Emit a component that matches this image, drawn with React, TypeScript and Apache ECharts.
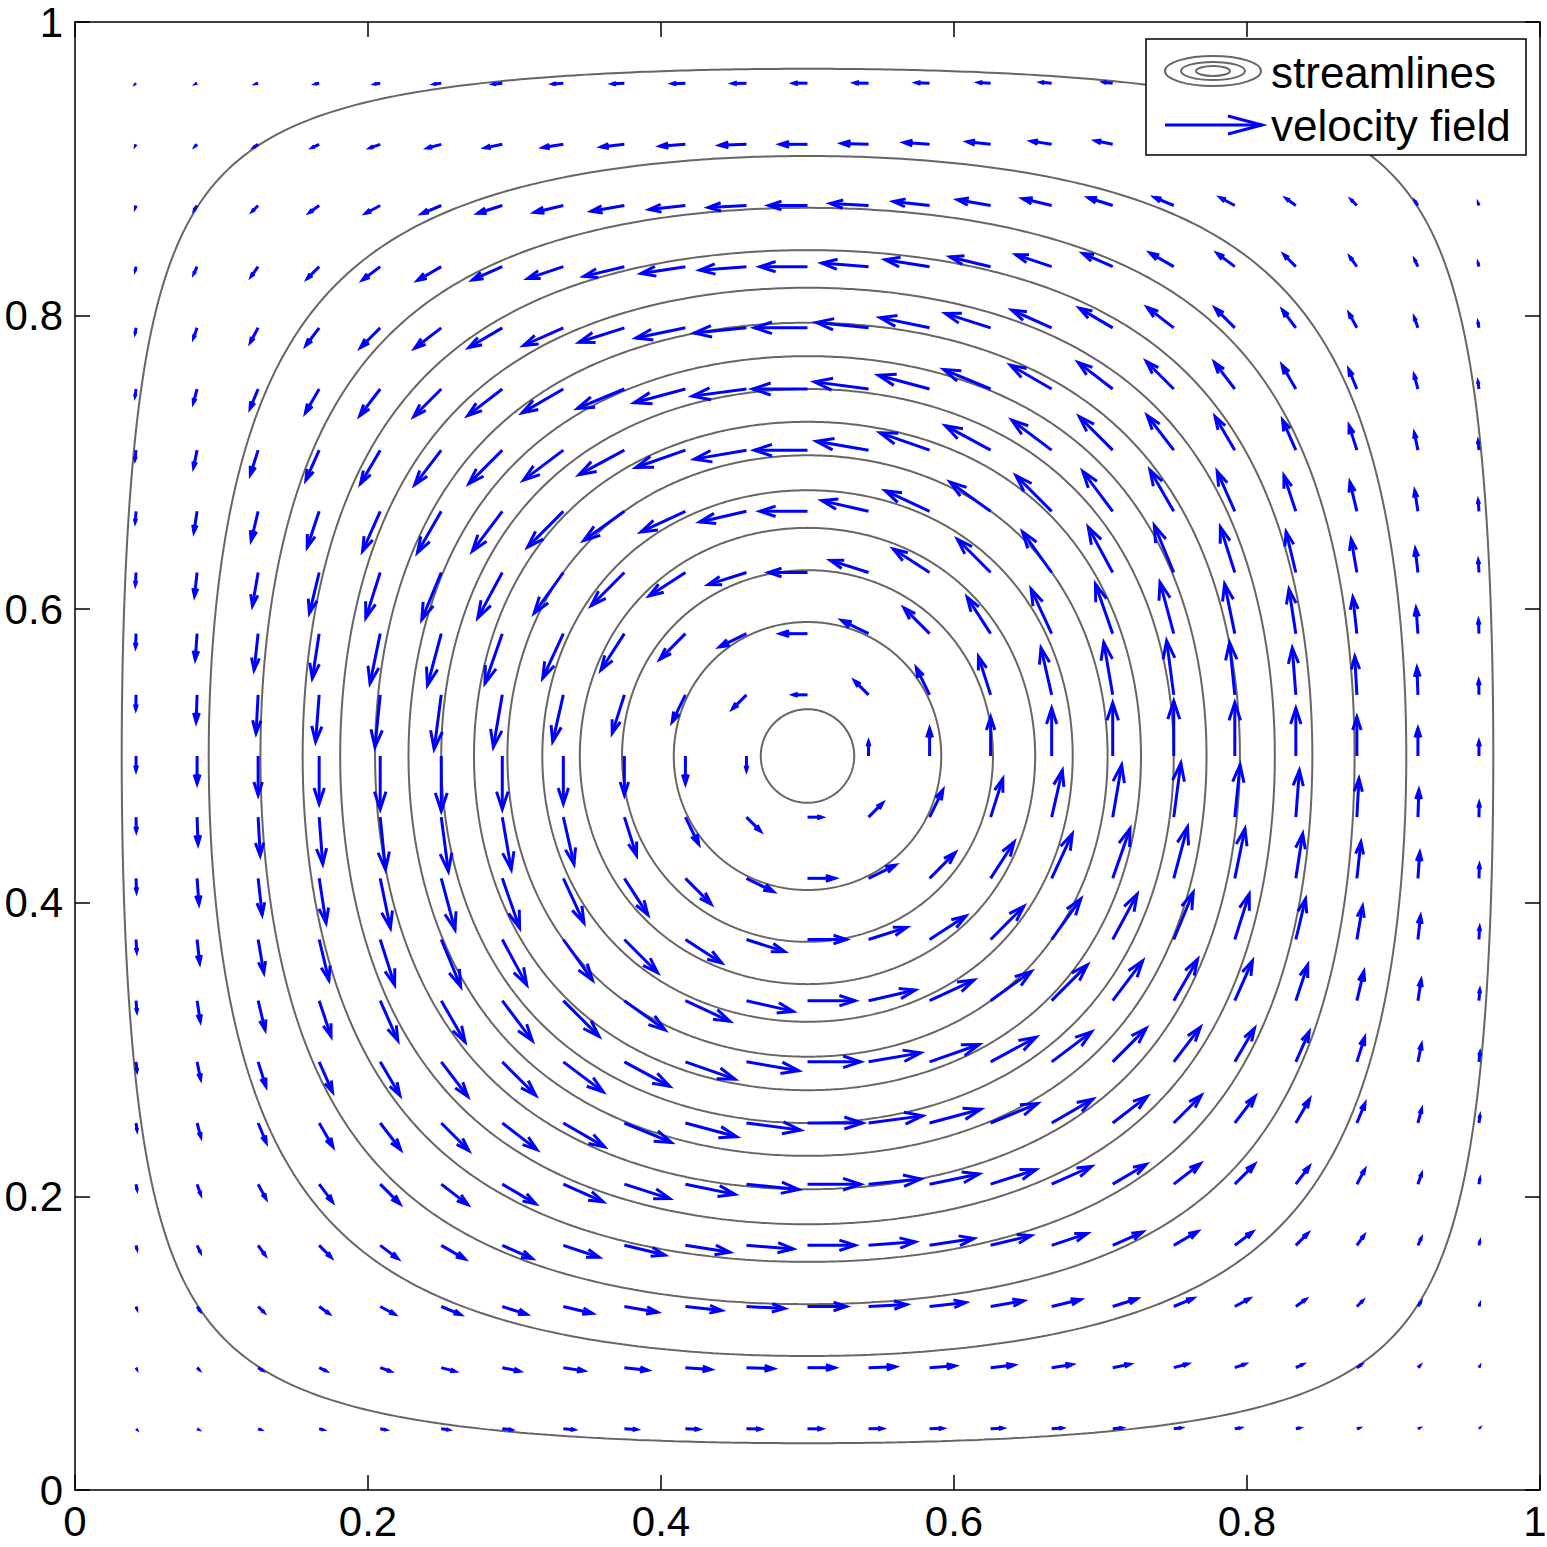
import React, { useEffect, useRef } from "react";
import * as echarts from "echarts";

// Axis ticks
const xTicks = [0, 0.2, 0.4, 0.6, 0.8, 1];
const yTicks = [0, 0.2, 0.4, 0.6, 0.8, 1];
// Streamline (contour) levels of the stream function
const contourLevels = [0.01, 0.08, 0.15, 0.22, 0.29, 0.36, 0.43, 0.5, 0.57, 0.64, 0.71, 0.78, 0.85, 0.92, 0.99];
// Quiver grid: points at i/24, i = 1..23
const gridDivisions = 24;
const legendLabels = ["streamlines", "velocity field"];

// Stream function of the vortex: psi = sin^2(pi x) sin^2(pi y)
const psi = (x: number, y: number) => Math.pow(Math.sin(Math.PI * x) * Math.sin(Math.PI * y), 2);
const velU = (x: number, y: number) => Math.PI * Math.pow(Math.sin(Math.PI * x), 2) * Math.sin(2 * Math.PI * y);
const velV = (x: number, y: number) => -Math.PI * Math.sin(2 * Math.PI * x) * Math.pow(Math.sin(Math.PI * y), 2);

function contourPoints(level: number): number[][] {
  const pts: number[][] = [];
  const n = 720;
  for (let k = 0; k <= n; k++) {
    const th = (2 * Math.PI * k) / n;
    const c = Math.cos(th), s = Math.sin(th);
    const rmax = 0.5 / Math.max(Math.abs(c), Math.abs(s));
    let lo = 0, hi = rmax;
    for (let it = 0; it < 50; it++) {
      const mid = (lo + hi) / 2;
      if (psi(0.5 + mid * c, 0.5 + mid * s) > level) lo = mid; else hi = mid;
    }
    const r = (lo + hi) / 2;
    pts.push([0.5 + r * c, 0.5 + r * s]);
  }
  return pts;
}

function quiverData(): number[][] {
  const raw: number[][] = [];
  let maxLen = 0;
  const d = 1 / gridDivisions;
  for (let i = 1; i < gridDivisions; i++) {
    for (let j = 1; j < gridDivisions; j++) {
      const x = i * d, y = j * d;
      const u = velU(x, y), v = velV(x, y);
      raw.push([x, y, u, v]);
      maxLen = Math.max(maxLen, Math.hypot(u / d, v / d));
    }
  }
  const scale = 0.9 / maxLen;
  return raw.map(([x, y, u, v]) => [x, y, u * scale, v * scale]);
}

const fmt = (v: number) => String(Math.round(v * 10) / 10);

export default function App() {
  const ref = useRef<HTMLDivElement>(null);
  useEffect(() => {
    if (!ref.current) return;
    const chart = echarts.init(ref.current, undefined, { renderer: "svg" });
    const font = "'Liberation Sans', Arial, Helvetica, sans-serif";
    const axisCommon = {
      type: "value" as const,
      min: 0,
      max: 1,
      interval: 0.2,
      splitLine: { show: false },
      axisLine: { show: true, onZero: false, lineStyle: { color: "#000", width: 1.5 } },
      axisTick: { show: true, inside: true, length: 15, lineStyle: { color: "#000", width: 1.5 } },
    };
    const contourSeries = contourLevels.map((lv) => ({
      type: "line",
      data: contourPoints(lv),
      showSymbol: false,
      symbol: "none",
      smooth: false,
      silent: true,
      lineStyle: { color: "#666666", width: 2 },
      z: 2,
    }));
    const gc = "#666666";
    const blue = "#0000ff";
    const lastX = xTicks[xTicks.length - 1];
    chart.setOption({
      animation: false,
      grid: { left: 75, top: 22, width: 1465, height: 1468, outerBoundsMode: "none", containLabel: false },
      xAxis: [
        {
          ...axisCommon,
          position: "bottom",
          axisLabel: {
            show: true, fontSize: 42, color: "#000", fontFamily: font, margin: 10,
            formatter: fmt, customValues: xTicks.slice(0, -1),
          },
        },
        { ...axisCommon, position: "top", axisLabel: { show: false } },
      ],
      yAxis: [
        {
          ...axisCommon,
          position: "left",
          axisLabel: { show: true, fontSize: 42, color: "#000", fontFamily: font, margin: 12, formatter: fmt, customValues: yTicks },
        },
        { ...axisCommon, position: "right", axisLabel: { show: false } },
      ],
      series: [
        ...contourSeries,
        {
          type: "custom",
          silent: true,
          z: 5,
          data: quiverData(),
          encode: { x: 0, y: 1 },
          renderItem: (params: any, api: any) => {
            const x = api.value(0), y = api.value(1), du = api.value(2), dv = api.value(3);
            if (du === 0 && dv === 0) return null;
            const tx = x + du, ty = y + dv;
            const a = 0.33, b = 0.33;
            const h1 = [tx - a * (du + b * dv), ty - a * (dv - b * du)];
            const h2 = [tx - a * (du - b * dv), ty - a * (dv + b * du)];
            const p0 = api.coord([x, y]);
            const p1 = api.coord([tx, ty]);
            const q1 = api.coord(h1);
            const q2 = api.coord(h2);
            return {
              type: "group",
              children: [
                { type: "line", shape: { x1: p0[0], y1: p0[1], x2: p1[0], y2: p1[1] }, style: { stroke: blue, lineWidth: 3 } },
                { type: "polyline", shape: { points: [q1, p1, q2] }, style: { stroke: blue, lineWidth: 3, fill: null } },
              ],
            };
          },
        },
      ],
      graphic: [
        // last x tick label, nudged to stay inside the picture
        { type: "text", z: 50, style: { x: 1535, y: 1521, text: fmt(lastX), fontSize: 42, fontFamily: font, fill: "#000", textAlign: "center", textVerticalAlign: "middle" } },
        { type: "rect", z: 100, shape: { x: 1146, y: 39, width: 380, height: 116 }, style: { fill: "#fff", stroke: "#000", lineWidth: 1.5 } },
        { type: "ellipse", z: 101, shape: { cx: 1213, cy: 71, rx: 48, ry: 15 }, style: { fill: null, stroke: gc, lineWidth: 2 } },
        { type: "ellipse", z: 101, shape: { cx: 1213, cy: 71, rx: 32, ry: 9 }, style: { fill: null, stroke: gc, lineWidth: 2 } },
        { type: "ellipse", z: 101, shape: { cx: 1213, cy: 71, rx: 17, ry: 5 }, style: { fill: null, stroke: gc, lineWidth: 2 } },
        { type: "line", z: 101, shape: { x1: 1165, y1: 125, x2: 1262, y2: 125 }, style: { stroke: blue, lineWidth: 3 } },
        { type: "polyline", z: 101, shape: { points: [[1228, 116], [1262, 125], [1228, 134]] }, style: { stroke: blue, lineWidth: 3, fill: null } },
        { type: "text", z: 101, style: { x: 1271, y: 72, text: legendLabels[0], fontSize: 44, fontFamily: font, fill: "#000", textVerticalAlign: "middle" } },
        { type: "text", z: 101, style: { x: 1271, y: 125, text: legendLabels[1], fontSize: 44, fontFamily: font, fill: "#000", textVerticalAlign: "middle" } },
      ],
    });
    return () => chart.dispose();
  }, []);
  return <div ref={ref} style={{ position: "absolute", left: 0, top: 0, width: 1547, height: 1547 }} />;
}
